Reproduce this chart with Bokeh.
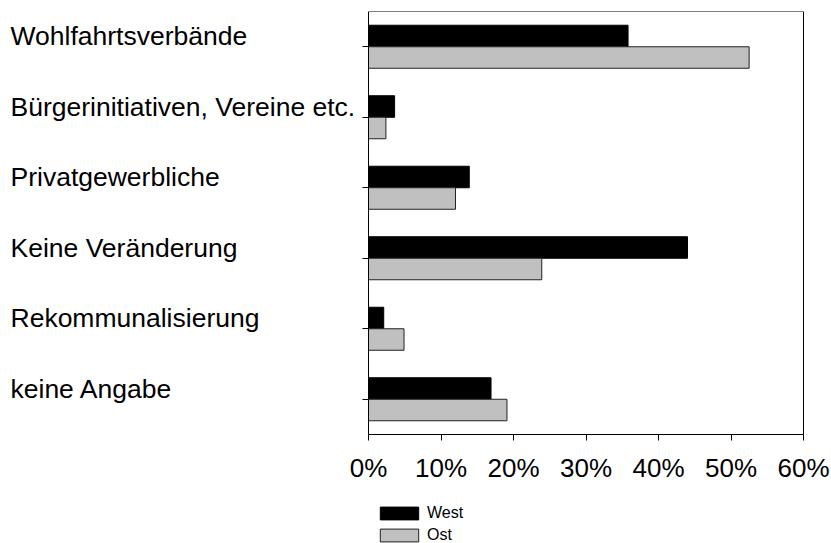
from bokeh.plotting import figure
from bokeh.models import (ColumnDataSource, Range1d, Legend, LegendItem,
                          FixedTicker, PrintfTickFormatter, LabelSet, BoxAnnotation)
from bokeh.transform import dodge
from bokeh.core.properties import value
from bokeh.embed import file_html
from bokeh.resources import INLINE

categories = ["Wohlfahrtsverbände", "Bürgerinitiativen, Vereine etc.", "Privatgewerbliche",
              "Keine Veränderung", "Rekommunalisierung", "keine Angabe"]
west = [35.8, 3.6, 13.9, 44.0, 2.1, 16.9]
ost = [52.5, 2.4, 12.0, 23.9, 4.9, 19.1]
x_ticks = [0, 10, 20, 30, 40, 50, 60]
series_names = ["West", "Ost"]

FONT = "Liberation Sans"
W, H = 831, 543
# layout (canvas pixels)
AXIS_LEFT_PX, AXIS_RIGHT_PX = 368, 803
AXIS_TOP_PX, AXIS_BOTTOM_PX = 11, 434

n = len(categories)
ypos = [n - 0.5 - i for i in range(n)]          # first category on top

px_per_x = (AXIS_RIGHT_PX - AXIS_LEFT_PX) / (x_ticks[-1] - x_ticks[0])
x_start = x_ticks[0] - AXIS_LEFT_PX / px_per_x
x_end = x_ticks[-1] + (W - AXIS_RIGHT_PX) / px_per_x
px_per_y = (AXIS_BOTTOM_PX - AXIS_TOP_PX) / n
y_start = -(H - AXIS_BOTTOM_PX) / px_per_y

source = ColumnDataSource(dict(cat=categories, y=ypos, west=west, ost=ost))

p = figure(width=W, height=H, x_range=Range1d(x_start, x_end), y_range=Range1d(y_start, n),
           output_backend="svg", toolbar_location=None,
           min_border_left=0, min_border_right=0, min_border_top=AXIS_TOP_PX, min_border_bottom=0)
p.outline_line_color = None
p.xgrid.grid_line_color = None
p.ygrid.grid_line_color = None

r_west = p.hbar(y=dodge("y", 0.1525), left=0, right="west", height=0.305,
                fill_color="black", line_color="black", line_width=1, source=source)
r_ost = p.hbar(y=dodge("y", -0.1525), left=0, right="ost", height=0.305,
               fill_color="#c0c0c0", line_color="#222222", line_width=1, source=source)

# chart box from 0% to 60%
p.add_layout(BoxAnnotation(left=x_ticks[0], right=x_ticks[-1], bottom=0, fill_alpha=0,
                           line_color="black", line_width=1, line_alpha=1))

xa = p.xaxis[0]
xa.fixed_location = 0
xa.ticker = FixedTicker(ticks=x_ticks)
xa.formatter = PrintfTickFormatter(format="%d%%")
xa.axis_line_color = None
xa.major_tick_out = 6
xa.major_tick_in = 0
xa.minor_tick_line_color = None
xa.major_tick_line_color = "black"
xa.major_label_text_font = FONT
xa.major_label_text_font_size = "26px"
xa.major_label_text_color = "black"
xa.major_label_standoff = 12

ya = p.yaxis[0]
ya.fixed_location = x_ticks[0]
ya.ticker = FixedTicker(ticks=ypos)
ya.axis_line_color = None
ya.major_tick_out = 6
ya.major_tick_in = 0
ya.minor_tick_line_color = None
ya.major_tick_line_color = "black"
ya.major_label_text_font_size = "0px"
ya.major_label_standoff = 0
ya.major_label_text_color = None

labels = LabelSet(x=10, y="y", x_units="screen", y_units="data", text="cat", source=source,
                  y_offset=10.5, text_baseline="middle", text_align="left",
                  text_font=value(FONT), text_font_size="26.5px", text_color="black")
p.add_layout(labels)

legend = Legend(items=[LegendItem(label=series_names[0], renderers=[r_west]),
                       LegendItem(label=series_names[1], renderers=[r_ost])],
                location=(375, -1), orientation="vertical",
                glyph_width=48, glyph_height=16, label_standoff=4,
                label_text_font=FONT, label_text_font_size="16px", label_height=16,
                label_text_color="black",
                padding=0, margin=0, spacing=4, border_line_color=None,
                background_fill_alpha=0)
p.add_layout(legend, "center")

open("out.html", "w").write(file_html(p, INLINE))
